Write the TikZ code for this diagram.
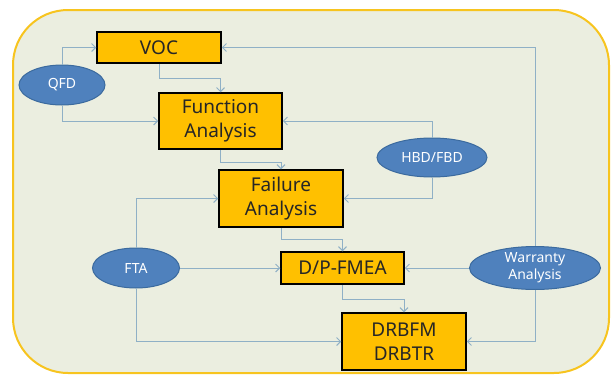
\documentclass[tikz,border=0pt]{standalone}
\usepackage{fontspec}
\setmainfont{Noto Sans}
\usetikzlibrary{shapes.geometric,arrows.meta}
\definecolor{bgfill}{HTML}{EBEEE0}
\definecolor{bgedge}{HTML}{F7C41F}
\definecolor{boxfill}{HTML}{FFC000}
\definecolor{ellfill}{HTML}{4F81BD}
\definecolor{elledge}{HTML}{3B6A9E}
\definecolor{connc}{HTML}{8FB0C6}
\begin{document}
\begin{tikzpicture}[x=1pt,y=-1pt,
  stepbox/.style={draw=black,line width=1.5pt,fill=boxfill,inner sep=0pt,align=center,
    font=\fontsize{19}{24}\selectfont,text=black!85},
  oval/.style={ellipse,draw=elledge,line width=1pt,fill=ellfill,inner sep=0pt,align=center,
    text=white,font=\fontsize{14}{17}\selectfont},
  conn/.style={draw=connc,line width=1pt,-{Straight Barb[length=4pt,width=8pt]}}]
\useasboundingbox (0,0) rectangle (611,375);
\draw[fill=bgfill,draw=bgedge,line width=2pt,rounded corners=55pt] (13,10) rectangle (609,373);
\node[stepbox,minimum width=124pt,minimum height=31pt] (voc) at (159,47.5) {VOC};
\node[stepbox,minimum width=123pt,minimum height=56pt] (fa) at (220.5,121) {Function\\Analysis};
\node[stepbox,minimum width=124pt,minimum height=57pt] (fail) at (281,198.5) {Failure\\Analysis};
\node[stepbox,minimum width=123pt,minimum height=32pt] (dp) at (342.5,268) {D/P-FMEA};
\node[stepbox,minimum width=124pt,minimum height=57pt] (dr) at (404,341.5) {DRBFM\\DRBTR};
\node[oval,minimum width=86pt,minimum height=40pt] (qfd) at (62,85) {QFD};
\node[oval,minimum width=110pt,minimum height=39pt] (hbd) at (432,157.5) {HBD/FBD};
\node[oval,minimum width=87pt,minimum height=40pt] (fta) at (136,268) {FTA};
\node[oval,minimum width=131pt,minimum height=40pt] (war) at (535,268) {Warranty\\Analysis};
\draw[conn] (qfd.north) |- (voc.west);
\draw[conn] (qfd.south) |- (fa.west);
\draw[conn] (voc.south) -- (voc.south |- 0,78) -| (fa.north);
\draw[conn] (war.north) |- (voc.east);
\draw[conn] (hbd.north) |- (fa.east);
\draw[conn] (fa.south) -- (fa.south |- 0,162) -| (fail.north);
\draw[conn] (hbd.south) |- (fail.east);
\draw[conn] (fta.north) |- (fail.west);
\draw[conn] (fail.south) -- (fail.south |- 0,239) -| (dp.north);
\draw[conn] (fta.east) -- (dp.west);
\draw[conn] (war.west) -- (dp.east);
\draw[conn] (dp.south) -- (dp.south |- 0,299) -| (dr.north);
\draw[conn] (fta.south) |- (dr.west);
\draw[conn] (war.south) |- (dr.east);
\end{tikzpicture}
\end{document}
